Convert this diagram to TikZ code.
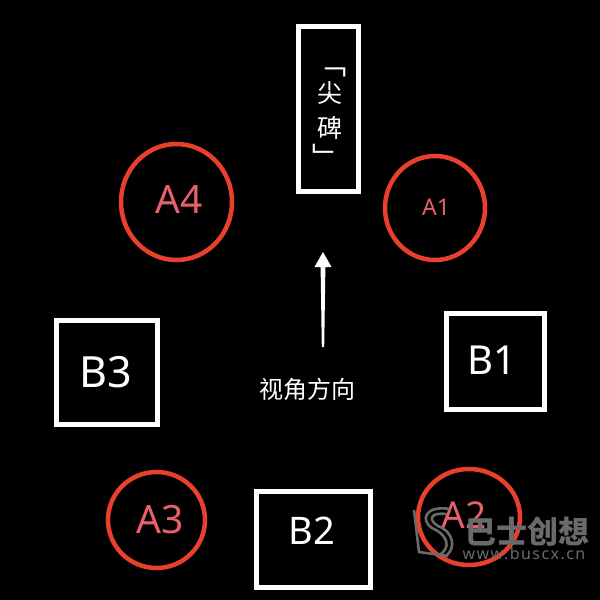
\documentclass[tikz,border=0pt]{standalone}
\usepackage{fontspec}
\setmainfont{Noto Sans}
\newfontfamily\cjk{Noto Sans CJK SC}
\definecolor{ringred}{HTML}{E8402C}
\definecolor{labelred}{HTML}{E8606A}
\definecolor{wmgray}{HTML}{6A6A6A}
\usetikzlibrary{shapes.geometric}
\tikzset{
  ring/.style={draw=ringred,line width=4.5pt,ellipse,inner sep=0pt,outer sep=0pt},
  whitebox/.style={draw=white,line width=5pt,inner sep=0pt,outer sep=0pt},
  ringlabel/.style={text=labelred,inner sep=0pt},
  wm/.style={text=wmgray,inner sep=0pt},
  glyph/.style={text=white,inner sep=0pt}
}
\begin{document}
\begin{tikzpicture}[x=1pt,y=-1pt]
\useasboundingbox (0,0) rectangle (600,600);
\fill[black] (0,0) rectangle (600,600);
% obelisk
\node[whitebox,minimum width=60pt,minimum height=165pt] (obelisk) at (328.5,109) {};
\node[glyph,font=\cjk\fontsize{25}{25}\selectfont] (jian) at (330,93) {尖};
\node[glyph,font=\cjk\fontsize{25}{25}\selectfont] (bei) at (330,128) {碑};
\node[glyph,font=\cjk\fontsize{29}{29}\selectfont] (open) at (332,72) {﹁};
\node[glyph,font=\cjk\fontsize{29}{29}\selectfont] (close) at (327,156) {﹂};
% circles
\node[ring,minimum width=100pt,minimum height=104pt] (A1) at (435,208) {};
\node[ring,minimum width=111pt,minimum height=116pt] (A4) at (176.5,202) {};
\node[ring,minimum width=97pt,minimum height=96pt] (A3) at (156.5,520) {};
\node[ring,minimum width=102pt,minimum height=96pt] (A2) at (469,517) {};
\node[ringlabel,font=\fontsize{23}{26}\selectfont] (A1t) at (436,207) {A1};
\node[ringlabel,font=\fontsize{39}{44}\selectfont] (A4t) at (179,199) {A4};
\node[ringlabel,font=\fontsize{39}{44}\selectfont] (A3t) at (160,520) {A3};
\node[ringlabel,font=\fontsize{37}{42}\selectfont] (A2t) at (464,515) {A2};
% boxes
\node[whitebox,minimum width=98pt,minimum height=96pt] (B1) at (495.5,361.5) {};
\node[whitebox,minimum width=101pt,minimum height=104pt] (B3) at (107,372.5) {};
\node[whitebox,minimum width=114pt,minimum height=96pt] (B2) at (313.5,539.5) {};
\node[glyph,font=\fontsize{40}{46}\selectfont] (B1t) at (492,360) {B1};
\node[glyph,font=\fontsize{43}{48}\selectfont] (B3t) at (106,372) {B3};
\node[glyph,font=\fontsize{38}{44}\selectfont] (B2t) at (312,531) {B2};
% view arrow
\coordinate (tail) at (323,347);
\coordinate (tip) at (323,252);
\fill[white] ([xshift=-1.2pt]tail) -- ([xshift=1.2pt]tail) -- ([xshift=2.4pt,yshift=-15pt]tip) -- ([xshift=8.5pt,yshift=-15pt]tip) -- (tip) -- ([xshift=-8.5pt,yshift=-15pt]tip) -- ([xshift=-2.4pt,yshift=-15pt]tip) -- cycle;
\node[glyph,font=\cjk\fontsize{24}{28}\selectfont] (view) at (307,389) {视角方向};
% watermark
\begin{scope}[draw=wmgray,line width=2.6pt]
\draw (414,510) -- (419,552) -- (448,556);
\draw (450,509) .. controls (425,505) and (420,520) .. (432,528) .. controls (448,535) and (452,548) .. (438,556);
\draw (446,514) .. controls (430,512) and (428,520) .. (438,526) .. controls (454,532) and (456,548) .. (446,556);
\end{scope}
\node[wm,font=\cjk\bfseries\fontsize{31}{34}\selectfont] (wmtitle) at (527,532) {巴士创想};
\node[wm,font=\bfseries\fontsize{16}{18}\selectfont\addfontfeature{LetterSpace=9}] (wmurl) at (524,554) {www.buscx.cn};
\end{tikzpicture}
\end{document}
